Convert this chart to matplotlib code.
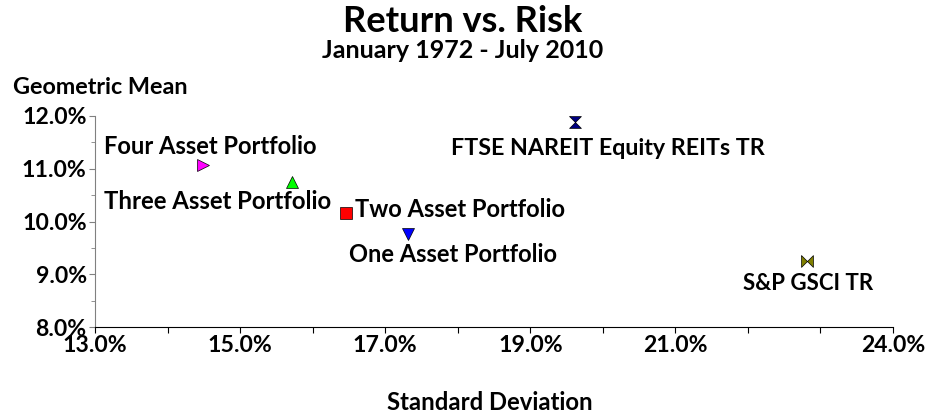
import numpy as np
import matplotlib
matplotlib.use("Agg")
import matplotlib.pyplot as plt
from matplotlib.path import Path

plt.rcParams['font.family'] = ['Lato', 'DejaVu Sans']
plt.rcParams['font.weight'] = 'bold'

# data: standard deviation (%) vs geometric mean (%)
names = ["Four Asset Portfolio", "Three Asset Portfolio", "Two Asset Portfolio",
         "One Asset Portfolio", "FTSE NAREIT Equity REITs TR", "S&P GSCI TR"]
std_dev = [14.49, 15.71, 16.46, 17.32, 19.61, 22.81]
geo_mean = [11.07, 10.75, 10.17, 9.76, 11.89, 9.26]

x_ticks = [13, 14, 15, 16, 17, 18, 19, 20, 21, 22, 23, 24]
x_labeled = [13, 15, 17, 19, 21, 24]
y_ticks = [8, 9, 10, 11, 12]

# marker shapes / colours
hourglass = Path([(-1, 1), (1, 1), (-1, -1), (1, -1), (-1, 1)])
bowtie = Path([(-1, 1), (-1, -1), (1, 1), (1, -1), (-1, 1)])
markers = ['>', '^', 's', 'v', hourglass, bowtie]
colors = ['#ff00ff', '#00ff00', '#ff0000', '#0000ff', '#000080', '#808000']
# label offsets in pixels (dx, dy, ha) and wanted text width in px
offsets = [(-99, 19, 'left'), (-188, -20, 'left'), (9, 3, 'left'),
           (45, -20, 'center'), (33, -27, 'center'), (1, -23, 'center')]
label_w = [213, 226, 210, 207, 313, 130]

fig = plt.figure(figsize=(9.26, 4.2), dpi=100)
W, H = 926, 420
ax = fig.add_axes([95 / W, 1 - 327 / H, (893 - 95) / W, (327 - 116) / H])

fitted = []  # (text, target width)
for i in range(len(names)):
    ax.plot(std_dev[i], geo_mean[i], marker=markers[i], color=colors[i],
            markersize=8.5, markeredgecolor='black', markeredgewidth=0.5,
            linestyle='none', clip_on=False)
    dx, dy, ha = offsets[i]
    t = ax.annotate(names[i], (std_dev[i], geo_mean[i]), xytext=(dx, dy),
                    textcoords='offset pixels', ha=ha, va='center',
                    fontsize=12, fontweight='bold')
    fitted.append((t, label_w[i]))

ax.set_xlim(13, 24)
ax.set_ylim(8, 12)
ax.set_xticks(x_ticks)
ax.set_xticklabels([f"{t:.1f}%" if t in x_labeled else "" for t in x_ticks])
ax.set_yticks(y_ticks)
ax.set_yticklabels([f"{t:.1f}%" for t in y_ticks])
ax.set_yticks(np.arange(8.5, 12, 1.0), minor=True)

ax.spines['top'].set_visible(False)
ax.spines['right'].set_visible(False)
ax.spines['left'].set_color('#808080')
ax.tick_params(axis='both', labelsize=12, length=4, width=0.8, pad=2)
ax.tick_params(axis='y', which='minor', length=3, color='#808080')
ax.tick_params(axis='y', which='major', color='#808080')

title = fig.text(0.5, 1 - 22 / H, "Return vs. Risk", ha='center', va='center',
                 fontsize=20, fontweight='bold')
sub = fig.text(0.5, 1 - 50 / H, "January 1972 - July 2010", ha='center',
               va='center', fontsize=12, fontweight='bold')
ylab = fig.text(13 / W, 1 - 88 / H, "Geometric Mean", ha='left', va='center',
                fontsize=12, fontweight='bold')
xlab = fig.text(490 / W, 1 - 403 / H, "Standard Deviation", ha='center',
                va='center', fontsize=12, fontweight='bold')
fitted += [(title, 240), (sub, 280), (ylab, 174), (xlab, 204)]

# scale font sizes so text widths match the reference
fig.canvas.draw()
r = fig.canvas.get_renderer()
for t, w in fitted:
    cur = t.get_window_extent(r).width
    t.set_fontsize(t.get_fontsize() * w / cur)

probe = ax.get_yticklabels()[-1]
tick_size = 12 * 64 / probe.get_window_extent(r).width
ax.tick_params(axis='both', labelsize=tick_size)
for lab in ax.get_xticklabels() + ax.get_yticklabels():
    lab.set_fontweight('bold')

fig.savefig("out.png", dpi=100)
